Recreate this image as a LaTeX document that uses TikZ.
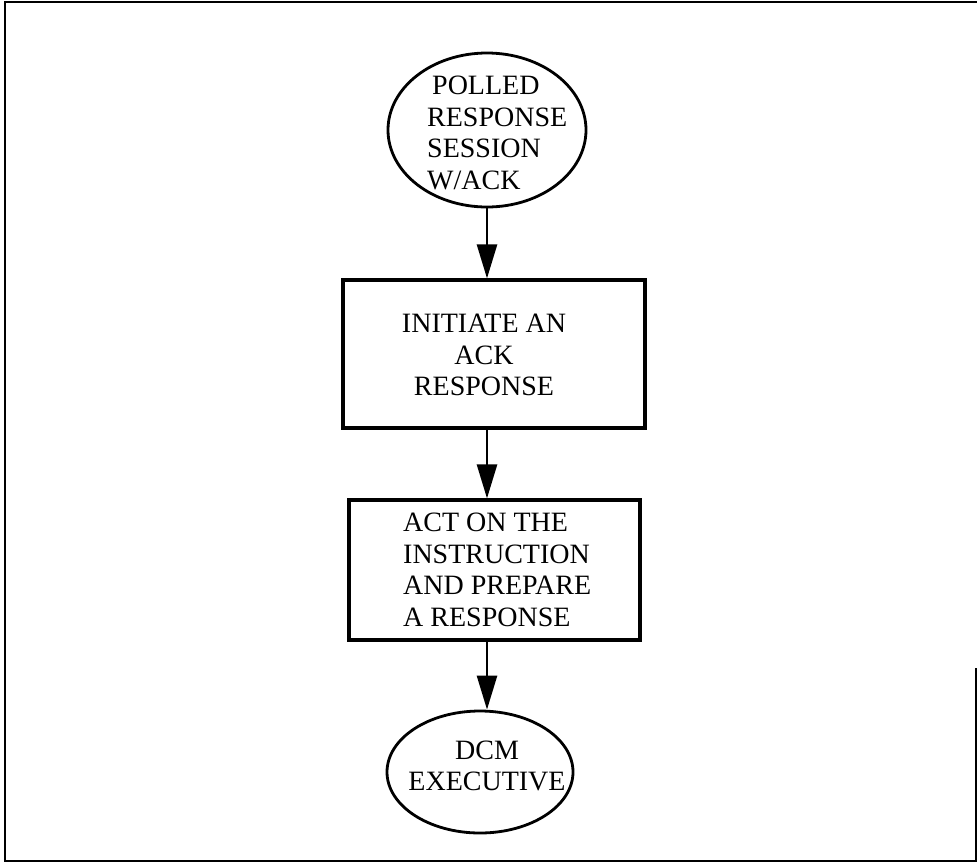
\documentclass[tikz,border=0pt]{standalone}
\usepackage{fontspec}
\setmainfont{Liberation Serif}
\usetikzlibrary{arrows.meta,shapes.geometric}
\begin{document}
\begin{tikzpicture}[x=1pt,y=-1pt,
  shapeline/.style={draw, line width=3.2pt, inner sep=0pt},
  oval/.style={shapeline, ellipse, line width=2.8pt},
  stepbox/.style={shapeline, rectangle},
  lbl/.style={inner sep=0pt, font=\fontsize{28}{31.5}\selectfont},
  arr/.style={line width=2.6pt, -{Triangle[length=34pt,width=20pt]}},
  frame/.style={line width=2.6pt}
]
\useasboundingbox (0,0) rectangle (977,863);
% frame
\draw[frame] (976,668) -- (976,861) -- (5,861) -- (5,2) -- (977,2);

% shapes
\node[oval, minimum width=198pt, minimum height=154pt] (e1) at (487,130) {};
\node[stepbox, minimum width=302pt, minimum height=148pt] (b1) at (494,354) {};
\node[stepbox, minimum width=291pt, minimum height=140pt] (b2) at (494.5,570) {};
\node[oval, minimum width=186pt, minimum height=122pt] (e2) at (480,772) {};

% texts
\node[lbl, anchor=west, align=left] (t1) at (427,133)
  {\hspace{5pt}POLLED\\RESPONSE\\SESSION\\W/ACK};
\node[lbl, align=center] (t2) at (484,355)
  {INITIATE AN\\ACK\\RESPONSE};
\node[lbl, anchor=west, align=left] (t3) at (403,570)
  {ACT ON THE\\INSTRUCTION\\AND PREPARE\\A RESPONSE};
\node[lbl, align=center] (t4) at (487,766)
  {DCM\\EXECUTIVE};

% connectors
\draw[arr] (e1.south) -- (e1.south |- b1.north);
\draw[arr] (e1.south |- b1.south) -- (e1.south |- b2.north);
\draw[arr] (e1.south |- b2.south) -- (e1.south |- e2.north);
\end{tikzpicture}
\end{document}
